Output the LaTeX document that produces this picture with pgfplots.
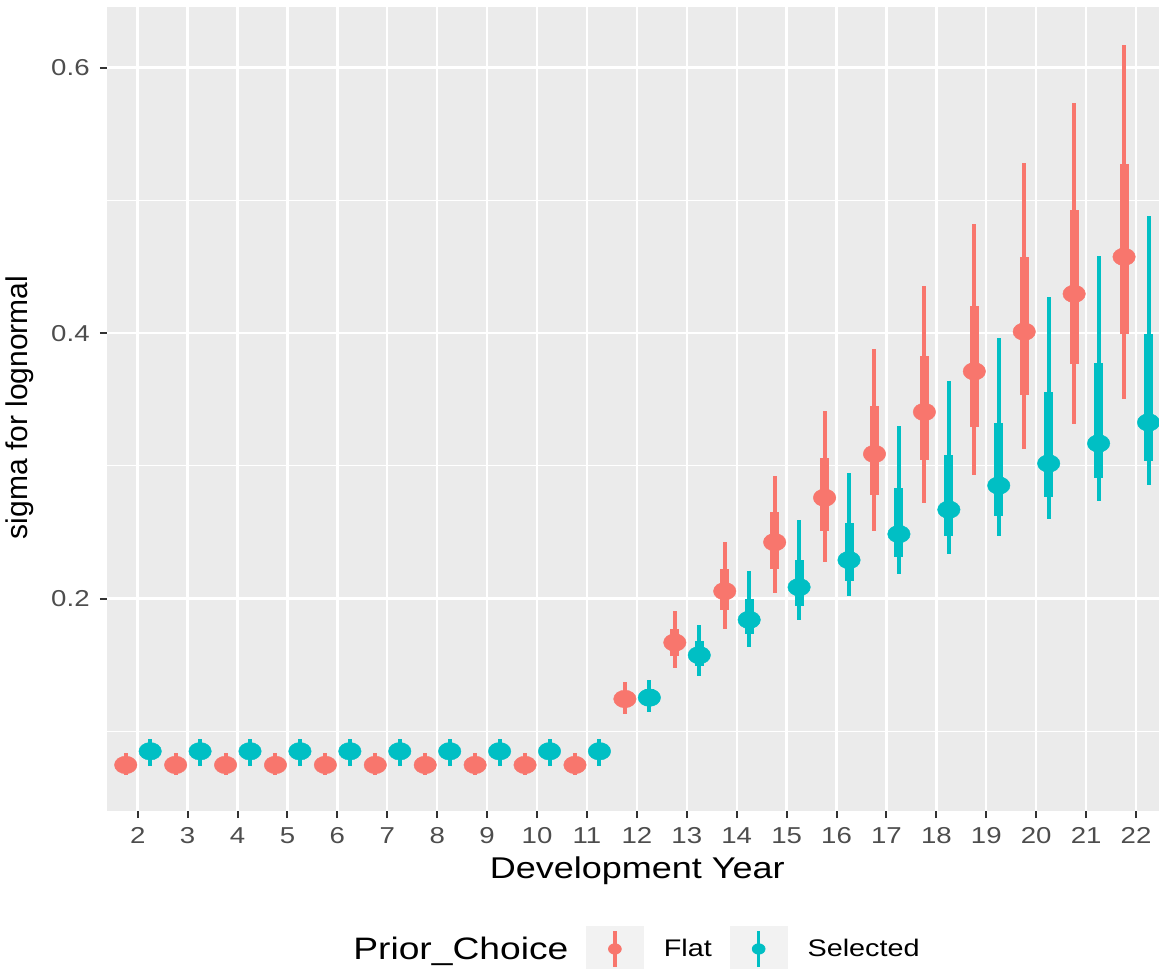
\documentclass[border=0pt]{standalone}
\usepackage{pgfplots}
\usepackage{pgfplotstable}
\pgfplotsset{compat=1.18}
\usepackage{fontspec}
\setmainfont{Liberation Sans}[FakeStretch=1.2]
\newfontfamily\plainfont{Liberation Sans}
\definecolor{flatc}{HTML}{F8766D}
\definecolor{selc}{HTML}{00BFC4}
\definecolor{ggbg}{HTML}{EBEBEB}
\definecolor{keybg}{HTML}{F2F2F2}
\definecolor{gg30}{HTML}{4D4D4D}
\definecolor{gg20}{HTML}{333333}

\pgfplotstableread{
x  lo95   lo66   med    hi66   hi95
2  0.0670 0.0705 0.0747 0.0790 0.0836
3  0.0670 0.0705 0.0747 0.0790 0.0836
4  0.0670 0.0705 0.0747 0.0790 0.0836
5  0.0670 0.0705 0.0747 0.0790 0.0836
6  0.0670 0.0705 0.0747 0.0790 0.0836
7  0.0670 0.0705 0.0747 0.0790 0.0836
8  0.0670 0.0705 0.0747 0.0790 0.0836
9  0.0670 0.0705 0.0747 0.0790 0.0836
10 0.0670 0.0705 0.0747 0.0790 0.0836
11 0.0670 0.0705 0.0747 0.0790 0.0836
12 0.1131 0.1180 0.1244 0.1300 0.1375
13 0.1478 0.1568 0.1669 0.1772 0.1910
14 0.1774 0.1915 0.2056 0.2224 0.2425
15 0.2041 0.2221 0.2425 0.2655 0.2924
16 0.2276 0.2510 0.2760 0.3058 0.3414
17 0.2512 0.2781 0.3090 0.3449 0.3881
18 0.2723 0.3045 0.3406 0.3831 0.4356
19 0.2934 0.3296 0.3712 0.4206 0.4820
20 0.3127 0.3533 0.4011 0.4575 0.5285
21 0.3317 0.3765 0.4296 0.4926 0.5736
22 0.3501 0.3995 0.4575 0.5277 0.6172
}\flatdata

\pgfplotstableread{
x  lo95   lo66   med    hi66   hi95
2  0.0742 0.0800 0.0850 0.0900 0.0945
3  0.0742 0.0800 0.0850 0.0900 0.0945
4  0.0742 0.0800 0.0850 0.0900 0.0945
5  0.0742 0.0800 0.0850 0.0900 0.0945
6  0.0742 0.0800 0.0850 0.0900 0.0945
7  0.0742 0.0800 0.0850 0.0900 0.0945
8  0.0742 0.0800 0.0850 0.0900 0.0945
9  0.0742 0.0800 0.0850 0.0900 0.0945
10 0.0742 0.0800 0.0850 0.0900 0.0945
11 0.0742 0.0800 0.0850 0.0900 0.0945
12 0.1144 0.1200 0.1254 0.1320 0.1388
13 0.1418 0.1490 0.1574 0.1680 0.1800
14 0.1638 0.1732 0.1840 0.1995 0.2209
15 0.1840 0.1945 0.2086 0.2292 0.2593
16 0.2020 0.2136 0.2290 0.2570 0.2947
17 0.2186 0.2316 0.2486 0.2834 0.3303
18 0.2337 0.2472 0.2670 0.3079 0.3636
19 0.2470 0.2623 0.2852 0.3322 0.3960
20 0.2602 0.2765 0.3018 0.3557 0.4272
21 0.2736 0.2905 0.3169 0.3778 0.4580
22 0.2855 0.3040 0.3327 0.3995 0.4881
}\seldata

\begin{document}
\begin{tikzpicture}
\useasboundingbox (0,0) rectangle (579.5bp,484.5bp);
\begin{axis}[
  at={(53.5bp,79bp)}, anchor=south west,
  scale only axis, width=526bp, height=402bp,
  xmin=1.385, xmax=22.46, ymin=0.040, ymax=0.6457,
  clip mode=individual,
  axis background/.style={fill=ggbg},
  axis line style={draw=none},
  xtick={2,3,...,22},
  ytick={0.2,0.4,0.6},
  minor ytick={0.1,0.3,0.5},
  xmajorgrids, ymajorgrids, yminorgrids,
  major grid style={white, line width=1.2bp},
  minor grid style={white, line width=0.6bp},
  tick align=outside, tick pos=left,
  major tick length=3.5bp, minor tick length=0pt,
  major tick style={draw=gg20, line width=1bp},
  /pgf/number format/assume math mode=true,
  yticklabel style={/pgf/number format/fixed, /pgf/number format/precision=1, /pgf/number format/fixed zerofill},
  ticklabel style={font=\fontsize{11.5bp}{13bp}\selectfont, text=gg30, inner sep=0pt},
  xticklabel style={anchor=north, yshift=-4.5bp},
  yticklabel style={anchor=east, xshift=-5bp},
  every axis x label/.style={at={(axis description cs:0.504,0)}, anchor=base, yshift=-33.5bp, inner sep=0pt, font=\fontsize{15bp}{17bp}\selectfont},
  every axis y label/.style={at={(axis description cs:-0.076,0.502)}, rotate=90, anchor=base, inner sep=0pt, font=\plainfont\fontsize{15bp}{17bp}\selectfont},
  xlabel={Development Year},
  ylabel={sigma for lognormal},
  legend columns=-1,
  legend style={at={(axis description cs:0.4553,-0.1716)}, anchor=west, draw=none, fill=none, inner sep=0pt, outer sep=0pt,
    font=\fontsize{12bp}{14bp}\selectfont, nodes={inner sep=0pt},
    /tikz/every odd column/.append style={column sep=10bp},
    /tikz/every even column/.append style={column sep=9bp}},
]
% Flat
\addplot[forget plot, flatc, only marks, mark=none, error bars/.cd, y dir=both, y explicit, error mark=none,
  error bar style={line width=2bp, draw=flatc}]
  table[x expr=\thisrow{x}-0.24, y=med, y error plus expr=\thisrow{hi95}-\thisrow{med}, y error minus expr=\thisrow{med}-\thisrow{lo95}] {\flatdata};
\addplot[forget plot, flatc, only marks, mark=none, error bars/.cd, y dir=both, y explicit, error mark=none,
  error bar style={line width=4.5bp, draw=flatc}]
  table[x expr=\thisrow{x}-0.24, y=med, y error plus expr=\thisrow{hi66}-\thisrow{med}, y error minus expr=\thisrow{med}-\thisrow{lo66}] {\flatdata};
\addplot[forget plot, flatc, only marks, mark=*, mark size=4.4bp, mark options={xscale=1.28, fill=flatc, draw=flatc, line width=0.2bp}]
  table[x expr=\thisrow{x}-0.24, y=med] {\flatdata};
% Selected
\addplot[forget plot, selc, only marks, mark=none, error bars/.cd, y dir=both, y explicit, error mark=none,
  error bar style={line width=2bp, draw=selc}]
  table[x expr=\thisrow{x}+0.25, y=med, y error plus expr=\thisrow{hi95}-\thisrow{med}, y error minus expr=\thisrow{med}-\thisrow{lo95}] {\seldata};
\addplot[forget plot, selc, only marks, mark=none, error bars/.cd, y dir=both, y explicit, error mark=none,
  error bar style={line width=4.5bp, draw=selc}]
  table[x expr=\thisrow{x}+0.25, y=med, y error plus expr=\thisrow{hi66}-\thisrow{med}, y error minus expr=\thisrow{med}-\thisrow{lo66}] {\seldata};
\addplot[forget plot, selc, only marks, mark=*, mark size=4.4bp, mark options={xscale=1.28, fill=selc, draw=selc, line width=0.2bp}]
  table[x expr=\thisrow{x}+0.25, y=med] {\seldata};

\addlegendimage{legend image code/.code={
  \fill[keybg] (0bp,-11.5bp) rectangle (28.5bp,11.5bp);
  \draw[flatc, line width=1.8bp] (14.25bp,-9bp) -- (14.25bp,9bp);
  \fill[flatc] (14.25bp,0bp) ellipse (3.2bp and 2.6bp);}}
\addlegendentry{Flat}
\addlegendimage{legend image code/.code={
  \fill[keybg] (0bp,-11.5bp) rectangle (28.5bp,11.5bp);
  \draw[selc, line width=1.8bp] (14.25bp,-9bp) -- (14.25bp,9bp);
  \fill[selc] (14.25bp,0bp) ellipse (3.2bp and 2.6bp);}}
\addlegendentry{Selected}

\node[anchor=base west, inner sep=0pt, font=\fontsize{15.5bp}{17bp}\selectfont] at (axis description cs:0.2338,-0.1853) {Prior\_Choice};
\end{axis}
\end{tikzpicture}
\end{document}
